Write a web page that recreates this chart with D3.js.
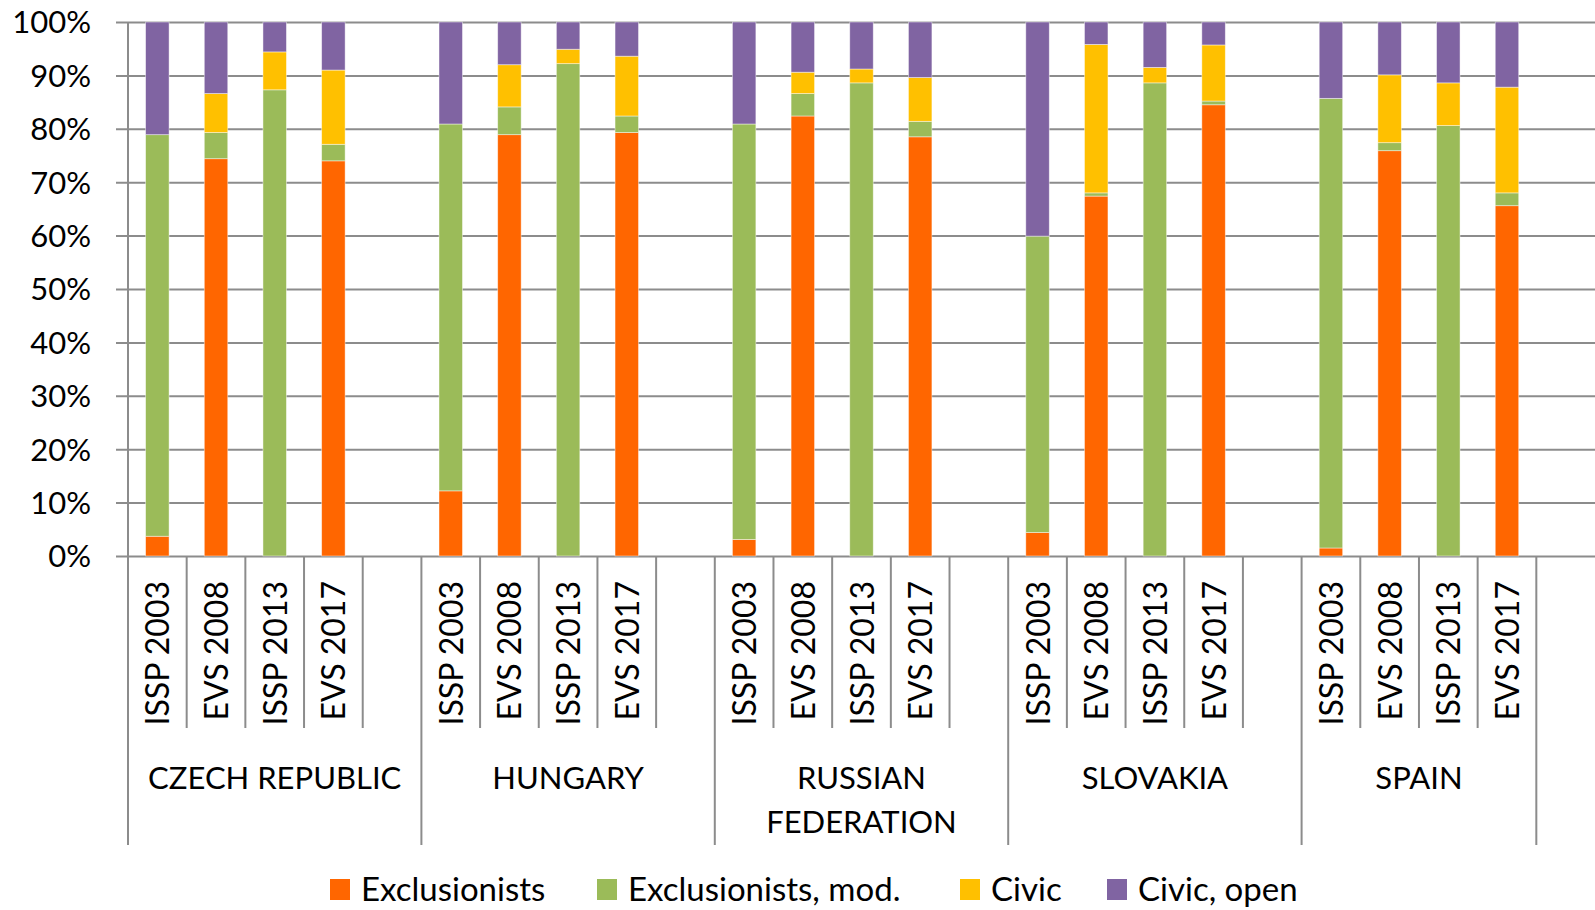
<!DOCTYPE html>
<html>
<head>
<meta charset="utf-8">
<script src="https://cdn.jsdelivr.net/npm/d3@7"></script>
<style>
  html, body { margin: 0; padding: 0; background: #fff; }
  svg { display: block; }
  text { font-family: Lato, "Open Sans", sans-serif; fill: #000; }
</style>
</head>
<body>
<svg id="chart" width="1595" height="910"></svg>
<script>
// Countries and survey waves shown on the two-level category axis
const countries = ["CZECH REPUBLIC", "HUNGARY", "RUSSIAN FEDERATION", "SLOVAKIA", "SPAIN"];
const surveys = ["ISSP 2003", "EVS 2008", "ISSP 2013", "EVS 2017"];

// Shares (%) per survey, country by country in the order of `surveys`
const exclusionists = [3.7, 74.4, 0, 74.0,   12.2, 78.9, 0, 79.3,   3.1, 82.4, 0, 78.5,   4.4, 67.4, 0, 84.5,   1.5, 75.9, 0, 65.6];
const exclusionistsMod = [75.2, 4.9, 87.3, 3.1,   68.7, 5.2, 92.2, 3.1,   77.8, 4.2, 88.6, 2.9,   55.5, 0.6, 88.6, 0.7,   84.2, 1.5, 80.6, 2.4];
const civic = [0, 7.3, 7.1, 13.9,   0, 7.9, 2.7, 11.2,   0, 4.0, 2.6, 8.2,   0, 27.8, 2.9, 10.5,   0, 12.7, 8.0, 19.8];
const civicOpen = [21.1, 13.4, 5.6, 9.0,   19.1, 8.0, 5.1, 6.4,   19.1, 9.4, 8.8, 10.4,   40.1, 4.2, 8.5, 4.3,   14.3, 9.9, 11.4, 12.2];

const seriesNames = ["Exclusionists", "Exclusionists, mod.", "Civic", "Civic, open"];
const seriesColors = ["#FF6600", "#9BBB59", "#FFC000", "#8064A2"];
const yTicks = [0, 10, 20, 30, 40, 50, 60, 70, 80, 90, 100];

// Build the category slots: 4 surveys per country plus one blank slot after each country
const slots = [];
countries.forEach((c, ci) => {
  surveys.forEach((s, si) => {
    const i = ci * surveys.length + si;
    slots.push({
      key: c + "|" + s, group: ci, label: s,
      "Exclusionists": exclusionists[i],
      "Exclusionists, mod.": exclusionistsMod[i],
      "Civic": civic[i],
      "Civic, open": civicOpen[i]
    });
  });
  // trailing blank slot; the one after the last country stands alone
  slots.push({ key: "blank" + ci, group: ci < countries.length - 1 ? ci : -1, label: "", blank: true });
});

const svg = d3.select("#chart");
const plotLeft = 128, plotRight = 1595, plotTop = 22, plotBottom = 556;

const x = d3.scaleBand()
  .domain(slots.map(d => d.key))
  .range([plotLeft, plotRight])
  .paddingInner(0.6)
  .paddingOuter(0.3);
const step = x.step();
const slotStart = k => x(k) - step * 0.3;

const y = d3.scaleLinear().domain([0, 100]).range([plotBottom, plotTop]);

const gridColor = "#8c8c8c";

// Horizontal gridlines with outward ticks
const yAxis = d3.axisLeft(y)
  .tickValues(yTicks)
  .tickFormat(d => d + "%")
  .tickSize(-(plotRight - plotLeft))
  .tickPadding(25);
const gy = svg.append("g").attr("transform", `translate(${plotLeft},0)`).call(yAxis);
gy.select(".domain").remove();
gy.selectAll(".tick line").attr("stroke", gridColor).attr("stroke-width", 2).attr("x1", -12);
gy.selectAll(".tick text")
  .attr("x", -37)
  .style("font-size", "31px")
  .style("font-family", "Lato, 'Open Sans', sans-serif")
  .attr("fill", "#000")
  .attr("dy", "0.35em");

// Stacked bars
const stack = d3.stack().keys(seriesNames);
const dataRows = slots.filter(d => !d.blank);
const layers = stack(dataRows);

svg.append("g").selectAll("g")
  .data(layers)
  .join("g")
  .attr("fill", (d, i) => seriesColors[i])
  .selectAll("rect")
  .data(d => d.filter(p => p[1] - p[0] > 0))
  .join("rect")
  .attr("x", p => x(p.data.key))
  .attr("width", x.bandwidth())
  .attr("y", p => y(p[1]))
  .attr("height", p => y(p[0]) - y(p[1]))
  .attr("stroke", "#ffffff")
  .attr("stroke-opacity", 0.55)
  .attr("stroke-width", 0.8);

// Category axis frame: value axis line, slot separators and group separators
const catG = svg.append("g").attr("stroke", gridColor).attr("stroke-width", 2);
catG.append("line")
  .attr("x1", plotLeft).attr("x2", plotLeft)
  .attr("y1", plotTop).attr("y2", 845);

slots.forEach((d, i) => {
  if (i === 0) return;
  const prev = slots[i - 1];
  const xs = slotStart(d.key);
  const groupEdge = prev.group !== d.group;
  catG.append("line")
    .attr("x1", xs).attr("x2", xs)
    .attr("y1", plotBottom)
    .attr("y2", groupEdge ? 845 : 728);
});

// Survey labels, rotated
svg.append("g").selectAll("text")
  .data(dataRows)
  .join("text")
  .attr("transform", d => `translate(${x(d.key) + x.bandwidth() / 2 + 12},581) rotate(-90)`)
  .attr("text-anchor", "end")
  .style("font-size", "32px")
  .text(d => d.label);

// Country labels centred over their slots
countries.forEach((c, ci) => {
  const own = slots.filter(s => s.group === ci);
  const x0 = slotStart(own[0].key);
  const x1 = slotStart(own[own.length - 1].key) + step;
  const cx = (x0 + x1) / 2;
  const words = c === "RUSSIAN FEDERATION" ? ["RUSSIAN", "FEDERATION"] : [c];
  const t = svg.append("text")
    .attr("text-anchor", "middle")
    .style("font-size", "31px");
  words.forEach((w, wi) => {
    t.append("tspan").attr("x", cx).attr("y", 789 + wi * 44).text(w);
  });
});

// Legend
const legendItems = [
  { name: seriesNames[0], sx: 330, tx: 361 },
  { name: seriesNames[1], sx: 597, tx: 628 },
  { name: seriesNames[2], sx: 960, tx: 991 },
  { name: seriesNames[3], sx: 1107, tx: 1138 }
];
const lg = svg.append("g");
legendItems.forEach((d, i) => {
  lg.append("rect")
    .attr("x", d.sx).attr("y", 879)
    .attr("width", 20).attr("height", 21)
    .attr("fill", seriesColors[i]);
  lg.append("text")
    .attr("x", d.tx).attr("y", 901)
    .style("font-size", "33px")
    .text(d.name);
});
</script>
</body>
</html>
